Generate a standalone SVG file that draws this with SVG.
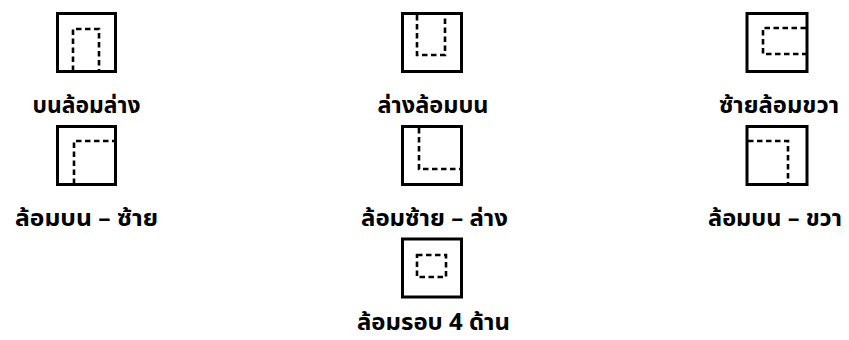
<svg xmlns="http://www.w3.org/2000/svg" width="849" height="340" viewBox="0 0 849 340">
<style>
.box{fill:#fff;stroke:#000;stroke-width:3}
.dash{fill:none;stroke:#000;stroke-width:2.6;stroke-dasharray:5.5 3.5}
.lbl{font-family:"Noto Sans Thai","Noto Sans","DejaVu Sans",sans-serif;font-weight:bold;font-size:23px;text-anchor:middle;fill:#000}
</style>
<rect width="849" height="340" fill="#fff"/>
<g id="top-wraps-bottom">
<rect class="box" x="57.5" y="13.5" width="58" height="58"/>
<path class="dash" d="M73,71 V29 H99 V71"/>
<text class="lbl" x="86.5" y="113" textLength="108" lengthAdjust="spacingAndGlyphs">บนล้อมล่าง</text>
</g>
<g id="bottom-wraps-top">
<rect class="box" x="402.5" y="13.5" width="59" height="58"/>
<path class="dash" d="M417,15 V55 H445 V15"/>
<text class="lbl" x="433" y="113" textLength="111" lengthAdjust="spacingAndGlyphs">ล่างล้อมบน</text>
</g>
<g id="left-wraps-right">
<rect class="box" x="747" y="13.5" width="60" height="58"/>
<path class="dash" d="M806,28 H763 V54 H806"/>
<text class="lbl" x="779" y="113" textLength="120" lengthAdjust="spacingAndGlyphs">ซ้ายล้อมขวา</text>
</g>
<g id="wrap-top-left">
<rect class="box" x="57.5" y="126.5" width="58" height="58"/>
<path class="dash" d="M74,184 V141 H115"/>
<text class="lbl" x="86.5" y="226" textLength="143" lengthAdjust="spacingAndGlyphs">ล้อมบน – ซ้าย</text>
</g>
<g id="wrap-left-bottom">
<rect class="box" x="402.5" y="126.5" width="59" height="58"/>
<path class="dash" d="M419,128 V169 H460"/>
<text class="lbl" x="434.5" y="226" textLength="147" lengthAdjust="spacingAndGlyphs">ล้อมซ้าย – ล่าง</text>
</g>
<g id="wrap-top-right">
<rect class="box" x="747" y="126.5" width="60" height="58"/>
<path class="dash" d="M748,141 H788 V184"/>
<text class="lbl" x="775" y="226" textLength="134" lengthAdjust="spacingAndGlyphs">ล้อมบน – ขวา</text>
</g>
<g id="wrap-all-sides">
<rect class="box" x="402.5" y="239" width="59" height="58"/>
<rect class="dash" x="417" y="255" width="29" height="22"/>
<text class="lbl" x="433.5" y="330" textLength="153" lengthAdjust="spacingAndGlyphs">ล้อมรอบ 4 ด้าน</text>
</g>
<g id="connectors"></g>
</svg>
